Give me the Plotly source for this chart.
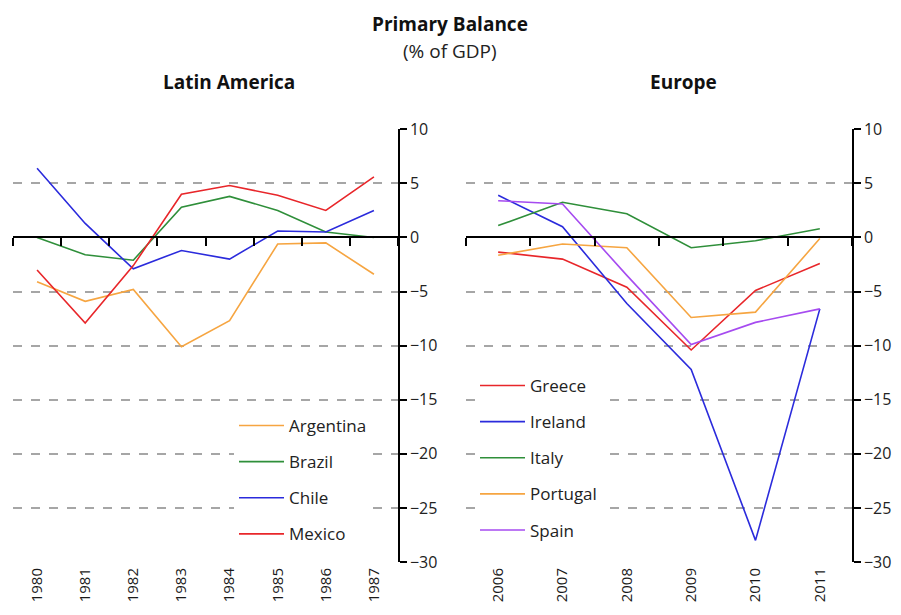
import numpy as np
import plotly.graph_objects as go

# Données (% du PIB)
years_la = ["1980", "1981", "1982", "1983", "1984", "1985", "1986", "1987"]
argentina = [-4.1, -5.9, -4.8, -10.1, -7.7, -0.6, -0.5, -3.4]
brazil = [0.0, -1.6, -2.1, 2.8, 3.8, 2.5, 0.5, 0.0]
chile = [6.4, 1.3, -2.9, -1.2, -2.0, 0.6, 0.5, 2.5]
mexico = [-3.0, -7.9, -2.6, 4.0, 4.8, 3.9, 2.5, 5.6]

years_eu = ["2006", "2007", "2008", "2009", "2010", "2011"]
greece = [-1.35, -2.0, -4.6, -10.4, -4.9, -2.4]
ireland = [3.9, 1.0, -6.1, -12.2, -28.0, -6.6]
italy = [1.1, 3.25, 2.2, -0.95, -0.3, 0.8]
portugal = [-1.65, -0.6, -0.95, -7.4, -6.9, -0.1]
spain = [3.4, 3.1, -3.5, -9.9, -7.85, -6.6]

COLORS = dict(
    orange="#f6a541",
    green="#2f8f3a",
    blue="#2b2bdc",
    red="#e8262a",
    purple="#a64bf0",
)

# la page a une marge de 8 px : la figure fait 885x599 et commence à (8, 8)
OFF = 8
W, H = 901 - 2 * OFF, 615 - 2 * OFF
FONT = "Open Sans"
Y_RANGE = [-30, 10]


def px_x(v):
    return (v - OFF) / W


def px_y(v):
    return 1 - (v - OFF) / H


y_dom = [px_y(562), px_y(129.3)]
zero_pos = y_dom[0] + 0.75 * (y_dom[1] - y_dom[0])

fig = go.Figure()

la_series = [
    ("Argentina", argentina, COLORS["orange"]),
    ("Brazil", brazil, COLORS["green"]),
    ("Chile", chile, COLORS["blue"]),
    ("Mexico", mexico, COLORS["red"]),
]
eu_series = [
    ("Greece", greece, COLORS["red"]),
    ("Ireland", ireland, COLORS["blue"]),
    ("Italy", italy, COLORS["green"]),
    ("Portugal", portugal, COLORS["orange"]),
    ("Spain", spain, COLORS["purple"]),
]

for name, vals, col in la_series:
    fig.add_trace(
        go.Scatter(
            x=years_la, y=vals, mode="lines", name=name,
            line=dict(color=col, width=1.6),
            xaxis="x", yaxis="y", legend="legend", legendgroup=name,
        )
    )
for name, vals, col in eu_series:
    fig.add_trace(
        go.Scatter(
            x=years_eu, y=vals, mode="lines", name=name,
            line=dict(color=col, width=1.6),
            xaxis="x2", yaxis="y2", legend="legend2", legendgroup=name,
        )
    )

# traces vides : elles servent seulement à faire exister les axes à y=0
fig.add_trace(go.Scatter(x=[], y=[], xaxis="x3", yaxis="y", showlegend=False))
fig.add_trace(go.Scatter(x=[], y=[], xaxis="x4", yaxis="y2", showlegend=False))

tick_font = dict(family=FONT, size=16, color="#222")


def cat_axis(domain, n):
    return dict(
        domain=domain, type="category", showgrid=False, zeroline=False,
        showline=False, ticks="", tickangle=-90,
        tickfont=dict(family=FONT, size=15, color="#1a1a1a"),
        range=[-0.5, n - 0.5], automargin=False, ticklabelstandoff=2,
    )


def value_axis(anchor):
    return dict(
        anchor=anchor, side="right", range=Y_RANGE, dtick=5, domain=y_dom,
        showline=True, linecolor="black", linewidth=1.5,
        ticks="outside", ticklen=7, tickcolor="black", tickwidth=1.5,
        showgrid=True, gridcolor="#a6a6a6", gridwidth=1.5, griddash="dash",
        zeroline=False, tickfont=tick_font, automargin=False,
    )


def zero_axis(overlay, n):
    # axe horizontal à y=0 avec graduations aux limites des catégories
    return dict(
        overlaying=overlay, anchor="free", position=zero_pos,
        range=[-0.5, n - 0.5], tickmode="array",
        tickvals=list(np.arange(n + 1) - 0.5),
        showticklabels=False, showgrid=False, zeroline=False,
        showline=True, linecolor="black", linewidth=1.5,
        ticks="outside", ticklen=8, tickcolor="black", tickwidth=1.5,
        automargin=False,
    )


left_dom = [px_x(13), px_x(398)]
right_dom = [px_x(466), px_x(852)]

legend_common = dict(
    bgcolor="white", font=dict(family=FONT, size=17, color="#222"),
    tracegroupgap=11, itemwidth=45, xanchor="left", yanchor="top",
)


def title(text, x, y, size, color="#111"):
    return dict(text=text, x=px_x(x), y=px_y(y), xref="paper", yref="paper",
                xanchor="center", yanchor="middle", showarrow=False,
                font=dict(family=FONT, size=size, color=color))


fig.update_layout(
    width=W, height=H,
    margin=dict(l=0, r=0, t=0, b=0, autoexpand=False),
    paper_bgcolor="white", plot_bgcolor="white",
    xaxis=cat_axis(left_dom, len(years_la)),
    xaxis2=cat_axis(right_dom, len(years_eu)),
    yaxis=value_axis("x"),
    yaxis2=value_axis("x2"),
    xaxis3=zero_axis("x", len(years_la)),
    xaxis4=zero_axis("x2", len(years_eu)),
    legend=dict(x=px_x(234), y=px_y(408), **legend_common),
    legend2=dict(x=px_x(475), y=px_y(368), **legend_common),
    showlegend=True,
    annotations=[
        title("<b>Primary Balance</b>", 450, 24, 19),
        title("(% of GDP)", 450, 51, 19, "#222"),
        title("<b>Latin America</b>", 229, 82, 19),
        title("<b>Europe</b>", 683, 82, 19),
    ],
)

fig.write_html("out.html")
